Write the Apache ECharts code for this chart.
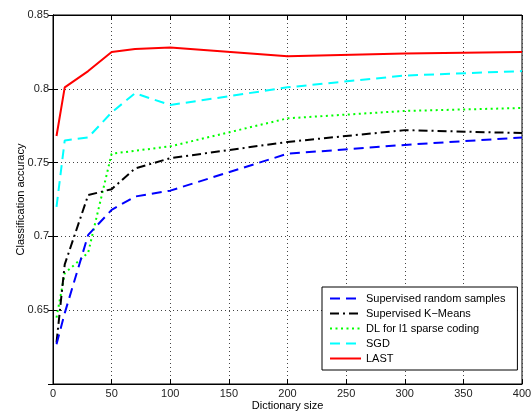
<!DOCTYPE html>
<html>
<head>
<meta charset="utf-8">
<script src="https://cdn.jsdelivr.net/npm/echarts@6/dist/echarts.min.js"></script>
<style>html,body{margin:0;padding:0;background:#fff}#c{width:532px;height:412px}</style>
</head>
<body>
<div id="c"></div>
<script>
const dictSizes = [3, 10, 30, 50, 70, 100, 200, 300, 400];
const seriesNames = ['Supervised random samples', 'Supervised K\u2212Means', 'DL for l1 sparse coding', 'SGD', 'LAST'];
const randomSamples = [0.627, 0.648, 0.701, 0.718, 0.727, 0.731, 0.756, 0.762, 0.767];
const kMeans       = [0.628, 0.681, 0.728, 0.732, 0.746, 0.753, 0.764, 0.772, 0.770];
const dlL1         = [0.645, 0.675, 0.689, 0.756, 0.758, 0.761, 0.780, 0.785, 0.787];
const sgd          = [0.720, 0.765, 0.767, 0.784, 0.797, 0.789, 0.801, 0.809, 0.812];
const last         = [0.768, 0.801, 0.812, 0.825, 0.827, 0.828, 0.822, 0.824, 0.825];
const xTicks = [0, 50, 100, 150, 200, 250, 300, 350, 400];
const yTicks = [0.6, 0.65, 0.7, 0.75, 0.8, 0.85];

const font = 'Liberation Sans, Arial, sans-serif';
const pairs = v => dictSizes.map((x, i) => [x, v[i]]);
const styles = [
  {color: '#0000ff', type: [10, 6], width: 2},
  {color: '#000000', type: [9, 4, 2, 4], width: 2},
  {color: '#00ff00', type: [2, 3.5], width: 2},
  {color: '#00ffff', type: [10, 6], width: 2},
  {color: '#ff0000', type: 'solid', width: 2}
];
const values = [randomSamples, kMeans, dlL1, sgd, last];

const chart = echarts.init(document.getElementById('c'), null, {renderer: 'canvas'});
const gridLine = {show: true, lineStyle: {color: '#444', type: [1, 3], width: 1}};
chart.setOption({
  animation: false,
  backgroundColor: '#fff',
  grid: {left: 53, right: 10, top: 15, bottom: 28, outerBoundsMode: 'none', containLabel: false,
    show: true, borderColor: '#000', borderWidth: 1, backgroundColor: 'transparent'},
  legend: {
    orient: 'vertical',
    left: 322, top: 287,
    padding: [6, 12, 6, 7],
    itemGap: 4,
    itemWidth: 31, itemHeight: 12,
    backgroundColor: '#fff',
    borderColor: '#000', borderWidth: 1,
    itemStyle: {opacity: 0},
    textStyle: {fontFamily: font, fontSize: 11, color: '#000'},
    data: seriesNames
  },
  xAxis: [{
    type: 'value', min: 0, max: 400, interval: 50,
    name: 'Dictionary size', nameLocation: 'middle', nameGap: 16, nameMoveOverlap: false,
    nameTextStyle: {fontFamily: font, fontSize: 11, color: '#000'},
    axisLine: {show: true, lineStyle: {color: '#000'}},
    axisTick: {show: true, inside: true, length: 5, lineStyle: {color: '#000'}},
    axisLabel: {fontFamily: font, fontSize: 11, color: '#222', margin: 4,
      customValues: xTicks},
    splitLine: gridLine
  }, {
    type: 'value', min: 0, max: 400, interval: 50, position: 'top',
    axisLine: {show: true, lineStyle: {color: '#000'}},
    axisTick: {show: true, inside: true, length: 5, lineStyle: {color: '#000'}},
    axisLabel: {show: false}, splitLine: {show: false}
  }],
  yAxis: [{
    type: 'value', min: 0.6, max: 0.85, interval: 0.05,
    name: 'Classification accuracy', nameLocation: 'middle', nameGap: 27, nameMoveOverlap: false,
    nameTextStyle: {fontFamily: font, fontSize: 11, color: '#000'},
    axisLine: {show: true, lineStyle: {color: '#000'}},
    axisTick: {show: true, inside: true, length: 5, lineStyle: {color: '#000'}},
    axisLabel: {fontFamily: font, fontSize: 11, color: '#222', margin: 4, showMinLabel: false,
      formatter: v => String(parseFloat(v.toFixed(2)))},
    splitLine: gridLine
  }, {
    type: 'value', min: 0.6, max: 0.85, interval: 0.05, position: 'right',
    axisLine: {show: true, lineStyle: {color: '#000'}},
    axisTick: {show: true, inside: true, length: 5, lineStyle: {color: '#000'}},
    axisLabel: {show: false}, splitLine: {show: false}
  }],
  series: values.map((v, i) => ({
    name: seriesNames[i], type: 'line', data: pairs(v),
    symbol: 'none', showSymbol: false,
    lineStyle: styles[i], itemStyle: {color: styles[i].color},
    z: 10 - i
  }))
});
</script>
</body>
</html>
